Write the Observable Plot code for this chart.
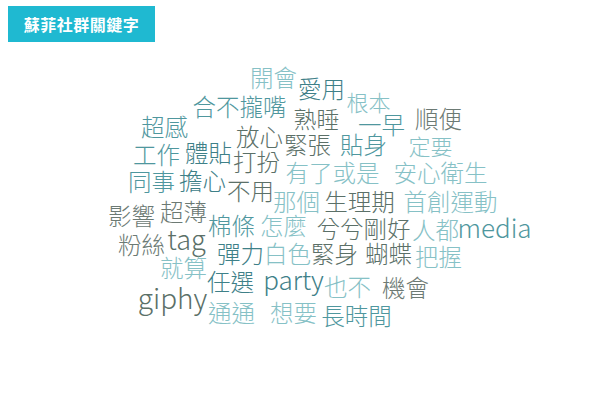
<!DOCTYPE html>
<html><head><meta charset="utf-8">
<script src="https://cdn.jsdelivr.net/npm/d3@7"></script>
<script src="https://cdn.jsdelivr.net/npm/@observablehq/plot@0.6"></script>
<style>
body{margin:0;background:#fff;}
#wrap{position:relative;width:600px;height:404px;}
#title{position:absolute;left:8px;top:6px;width:147px;height:36px;background:#1fb9d1;color:#fff;font:bold 16px "Noto Sans CJK TC",sans-serif;display:flex;align-items:center;justify-content:center;letter-spacing:0.5px;}
</style></head>
<body><div id="wrap"><div id="title">蘇菲社群關鍵字</div></div>
<script>
const words = ["開會","愛用","根本","合不攏嘴","熟睡","一早","順便","超感","放心","緊張","貼身","定要","工作","體貼","打扮","有了或是","安心衛生","同事","擔心","不用","那個","生理期","首創運動","影響","超薄","棉條","怎麼","兮兮剛好","人都","media","粉絲","tag","彈力","白色","緊身","蝴蝶","把握","就算","任選","party","也不","機會","giphy","通通","想要","長時間"];
const xs = [273,321,368,239,316,381,438,164,259,307,363,430,156,208,256,332,440,151,202,250,296,359,450,131,183,231,283,363,435,494,141,186,240,287,334,388,438,183,230,293,347,405,172,231,293,356];
const ys = [79,90,103,108,120,126,120,128,138,146,146,147,156,154,163,174,174,183,182,192,203,203,203,217,213,227,227,230,231,229,246,241,255,255,255,255,258,269,283,281,288,289,300,314,314,317];
const weights = [23.5,23.5,22,23.5,23,23.5,23.5,23.5,23.5,23.5,23.5,22,23.5,23.5,23.5,23.5,23.5,23.5,23.5,23.5,23.5,23.5,23.5,23.5,23.5,23.5,23.5,23.5,23.5,26,23.5,27,23.5,23.5,23.5,23.5,23.5,23.5,23.5,26,23.5,23.5,28,23.5,23.5,23.5];
const groups = ["A","C","A","B","D","B","E","B","D","D","B","A","B","C","D","A","A","B","C","D","A","D","A","E","E","B","A","D","A","B","E","D","C","A","D","D","A","A","C","C","A","E","D","A","A","B"];
const groupNames = ["A","B","C","D","E"];
const groupColors = ["#86c1c6","#4f979e","#3e8088","#5b7068","#6c7a74"];

const data = words.map((w,i)=>({word:w,x:xs[i],y:ys[i],size:weights[i],group:groups[i]}));

const chart = Plot.plot({
  width:600, height:404, margin:0,
  x:{domain:[0,600], axis:null},
  y:{domain:[0,404], range:[0,404], axis:null},
  color:{domain:groupNames, range:groupColors},
  marks:[
    Plot.text(data,{x:"x",y:"y",text:"word",fill:"group",fontSize:"size",fontWeight:300,
      textAnchor:"middle",lineAnchor:"middle",fontFamily:"Noto Sans CJK TC, sans-serif"})
  ]
});
chart.style.position="absolute";chart.style.left="0";chart.style.top="0";
document.getElementById("wrap").prepend(chart);
</script></body></html>
